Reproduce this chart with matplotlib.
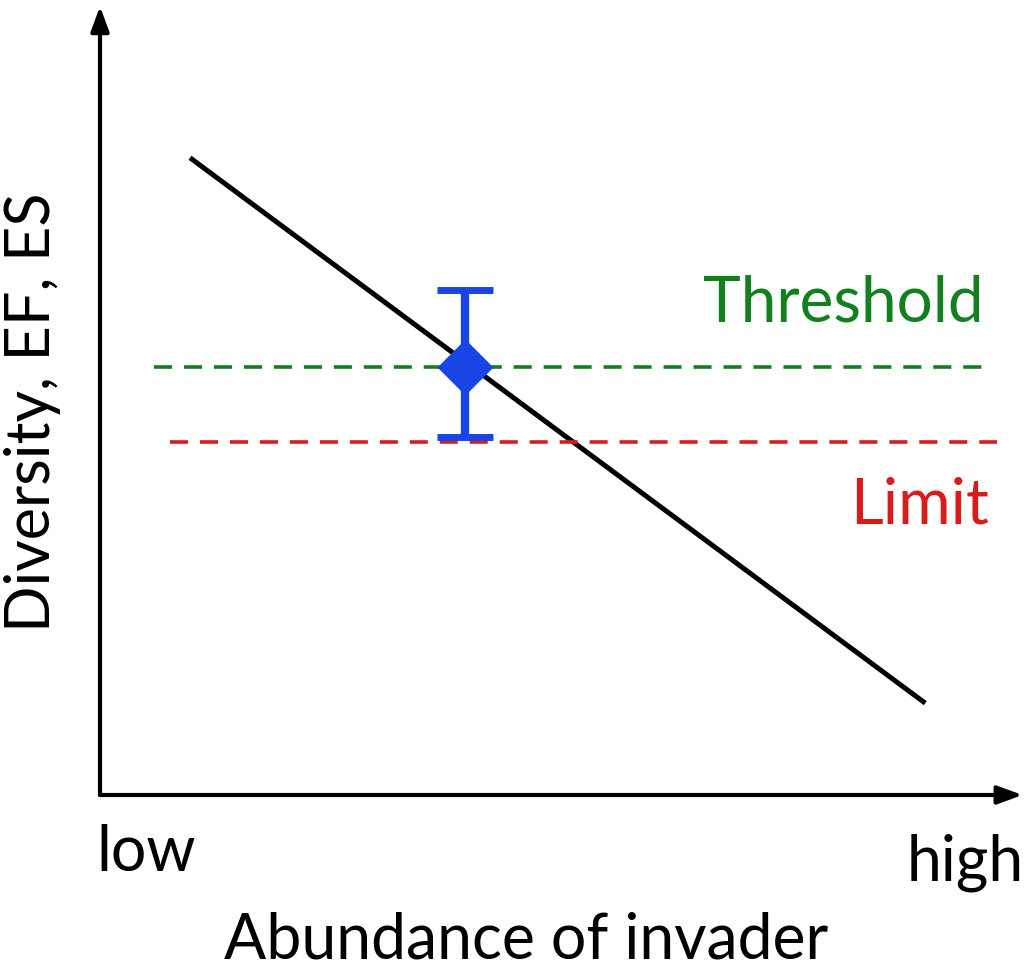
import matplotlib
matplotlib.use("Agg")
import matplotlib.pyplot as plt

# conceptual data (arbitrary units, 0..10 on both axes)
trend_x = [1.0, 9.17]
trend_y = [8.33, 1.2]
threshold_y = 5.6
threshold_x = [0.6, 9.8]
limit_y = 4.61
limit_x = [0.78, 9.97]
obs_x = [4.06]
obs_y = [5.6]
obs_err_low = [0.92]
obs_err_high = [1.0]

GREEN = "#138020"
RED = "#d81c1c"
BLUE = "#1a45e6"
FONT = "Lato"

fig = plt.figure(figsize=(10.25, 9.71), dpi=100)
ax = fig.add_axes([100 / 1025, 176 / 971, 900 / 1025, 765 / 971])
ax.set_xlim(0, 10)
ax.set_ylim(0, 10)
for s in ax.spines.values():
    s.set_visible(False)
ax.set_xticks([])
ax.set_yticks([])

# axis arrows
arrow = dict(arrowstyle="-|>,head_length=1.5,head_width=0.55", color="black",
             lw=3, shrinkA=0, shrinkB=0)
ax.annotate("", xy=(0, 1.031), xytext=(0, 0), xycoords="axes fraction",
            arrowprops=arrow, annotation_clip=False)
ax.annotate("", xy=(1.025, 0), xytext=(0, 0), xycoords="axes fraction",
            arrowprops=arrow, annotation_clip=False)

ax.plot(trend_x, trend_y, color="black", lw=3.6, solid_capstyle="butt")

g, = ax.plot(threshold_x, [threshold_y] * 2, color=GREEN, lw=2.6)
g.set_dashes((5.0, 3.3))
r, = ax.plot(limit_x, [limit_y] * 2, color=RED, lw=2.6)
r.set_dashes((5.0, 3.3))

ax.errorbar(obs_x, obs_y, yerr=[obs_err_low, obs_err_high], fmt="D",
            color=BLUE, ms=27, elinewidth=6, capsize=20, capthick=5, zorder=5)

ax.text(8.26, 6.43, "Threshold", color=GREEN, fontsize=46, family=FONT,
        ha="center", va="center")
ax.text(9.11, 3.79, "Limit", color=RED, fontsize=46, family=FONT,
        ha="center", va="center")
ax.text(0.51, -0.76, "low", fontsize=45, family=FONT, ha="center", va="center")
ax.text(9.61, -0.88, "high", fontsize=45, family=FONT, ha="center", va="center")
ax.text(4.74, -1.9, "Abundance of invader", fontsize=45, family=FONT,
        ha="center", va="center")
ax.text(-0.75, 5.0, "Diversity, EF, ES", fontsize=44, family=FONT,
        ha="center", va="center", rotation=90)

fig.savefig("out.png", dpi=100)
